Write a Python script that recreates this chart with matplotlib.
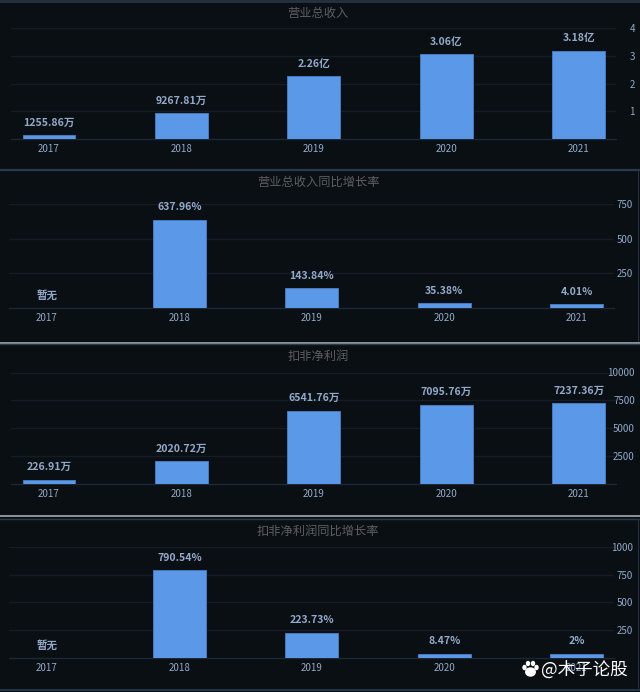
import numpy as np
import matplotlib
matplotlib.use('Agg')
import matplotlib.pyplot as plt
from matplotlib.lines import Line2D
from matplotlib.patches import Ellipse

plt.rcParams['font.family'] = ['Noto Sans CJK SC', 'DejaVu Sans']

W, H = 640, 692
BG = '#0a0f14'
BAR = '#5c98e8'
BAR_EDGE = '#4679bd'
TEXT = '#93a9c9'
TITLE = '#5b5f63'
GRID = '#141c25'
BASE = '#1d2835'

years = ['2017', '2018', '2019', '2020', '2021']

revenue = [0.1256, 0.9268, 2.26, 3.06, 3.18]
revenue_labels = ['1255.86万', '9267.81万', '2.26亿', '3.06亿', '3.18亿']
revenue_ticks = [1, 2, 3, 4]

revenue_growth = [np.nan, 637.96, 143.84, 35.38, 4.01]
revenue_growth_labels = ['暂无', '637.96%', '143.84%', '35.38%', '4.01%']
revenue_growth_ticks = [250, 500, 750]

profit = [226.91, 2020.72, 6541.76, 7095.76, 7237.36]
profit_labels = ['226.91万', '2020.72万', '6541.76万', '7095.76万', '7237.36万']
profit_ticks = [2500, 5000, 7500, 10000]

profit_growth = [np.nan, 790.54, 223.73, 8.47, 2]
profit_growth_labels = ['暂无', '790.54%', '223.73%', '8.47%', '2%']
profit_growth_ticks = [250, 500, 750, 1000]

fig = plt.figure(figsize=(W / 100, H / 100), dpi=100, facecolor=BG)


def fx(x):
    return x / W


def fy(y):
    return 1 - y / H


def hline(y, color, lw=1.0, x0=0, x1=W):
    fig.add_artist(Line2D([fx(x0), fx(x1)], [fy(y), fy(y)], color=color, lw=lw))


def panel(title, title_y, values, labels, ticks, base_y, top_y, shift, ymax):
    # bars sit 132.4 px apart, first centre 49 px from the left
    left, right = 11 + shift, 616 + shift
    ax = fig.add_axes([fx(left), fy(base_y), (right - left) / W, (base_y - top_y) / H])
    ax.set_facecolor('none')
    ax.set_xlim((left - (49 + shift)) / 132.4, (right - (49 + shift)) / 132.4)
    ax.set_ylim(0, ymax)

    px_per_unit = (base_y - top_y) / ymax
    vals = np.array(values, dtype=float)
    # the chart keeps tiny bars visible at about 4 px
    heights = np.where(np.isnan(vals), 0, np.maximum(np.nan_to_num(vals), 4 / px_per_unit))
    xs = np.arange(len(years))
    ax.bar(xs[~np.isnan(vals)], heights[~np.isnan(vals)], width=0.4, color=BAR,
           edgecolor=BAR_EDGE, linewidth=0.7, zorder=3)

    for x, h, lab in zip(xs, heights, labels):
        ax.annotate(lab, (x, h), xytext=(0, 9.0), textcoords='offset points', ha='center',
                    va='center', color=TEXT, fontsize=7.6, fontweight='bold')

    ax.set_xticks(xs)
    ax.set_xticklabels(years)
    ax.set_yticks(ticks)
    ax.yaxis.tick_right()
    ax.tick_params(axis='x', length=0, pad=3.8, labelsize=7.0, labelcolor=TEXT)
    ax.tick_params(axis='y', length=0, pad=13.6, labelsize=7.0, labelcolor=TEXT)
    for t in ax.get_yticklabels():
        t.set_ha('right')
    ax.grid(axis='y', color=GRID, lw=1.0, zorder=0)
    ax.set_axisbelow(True)
    for s in ax.spines.values():
        s.set_visible(False)
    ax.spines['bottom'].set_visible(True)
    ax.spines['bottom'].set_color(BASE)
    ax.spines['bottom'].set_linewidth(1.0)

    fig.text(fx(318), fy(title_y), title, color=TITLE, fontsize=8.8, ha='center', va='center')


panel('营业总收入', 13, revenue, revenue_labels, revenue_ticks, 139, 28, 0, 4)
panel('营业总收入同比增长率', 182, revenue_growth, revenue_growth_labels,
      revenue_growth_ticks, 308, 204, -2, 750)
panel('扣非净利润', 356.5, profit, profit_labels, profit_ticks, 483.5, 372.5, 0, 10000)
panel('扣非净利润同比增长率', 531.5, profit_growth, profit_growth_labels,
      profit_growth_ticks, 657.5, 547, -2, 1000)

# panel separators and frames
hline(1, '#26323f', 2.0)
hline(169.5, '#2a3a4c', 1.6)
hline(342.5, '#8d949c', 1.4)
hline(344.5, '#2a3a4c', 1.0)
hline(516, '#8d949c', 1.4)
hline(518.5, '#2a3a4c', 1.0)
hline(690, '#2a3a4c', 1.2)
for y0, y1 in [(170, 341), (519, 689)]:
    fig.add_artist(Line2D([fx(638), fx(638)], [fy(y0), fy(y1)], color='#223040', lw=0.8))

# watermark
fig.text(fx(540.5), fy(669.5), '@木子论股', color='white', fontsize=12.6, fontweight='medium',
         ha='left', va='center', zorder=5)
tr = fig.transFigure
paw = [(530.5, 672, 9.5, 8), (524.5, 667.5, 3, 4), (528, 663.5, 3, 4),
       (533, 663.5, 3, 4), (536.5, 667.5, 3, 4)]
for x, y, w, h in paw:
    fig.add_artist(Ellipse((fx(x), fy(y)), w / W, h / H, color='white', transform=tr, zorder=5))

fig.savefig('out.png', dpi=100, facecolor=BG)
